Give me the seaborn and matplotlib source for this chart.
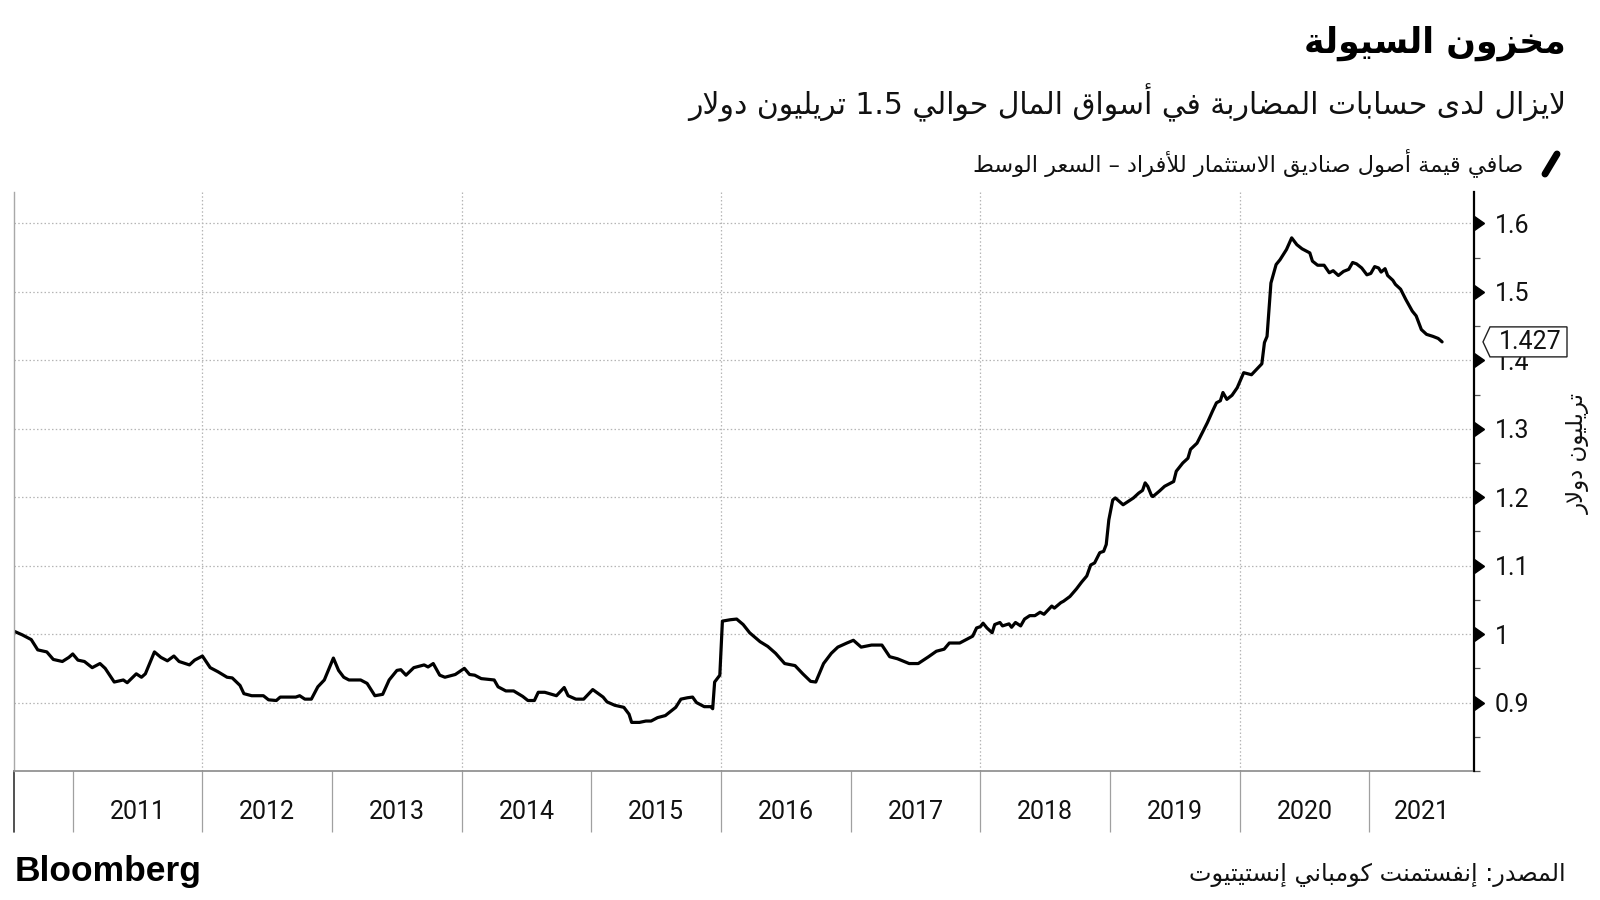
import re
import numpy as np
import pandas as pd
import seaborn as sns
import matplotlib
matplotlib.use("Agg")
import matplotlib.pyplot as plt
from matplotlib.lines import Line2D
from matplotlib.patches import Polygon
from matplotlib.ticker import FixedLocator, MultipleLocator

# ---------------- data (decimal years, trillion USD) ----------------
dates = [
    2010.55, 2010.61, 2010.68, 2010.73, 2010.80, 2010.85, 2010.92, 2010.97, 2011.00, 2011.04,
    2011.09, 2011.15, 2011.21, 2011.25, 2011.32, 2011.39, 2011.42, 2011.49, 2011.53, 2011.56,
    2011.63, 2011.68, 2011.73, 2011.78, 2011.82, 2011.90, 2011.94, 2012.00, 2012.06, 2012.12,
    2012.19, 2012.23, 2012.29, 2012.32, 2012.38, 2012.47, 2012.51, 2012.57, 2012.60, 2012.72,
    2012.75, 2012.79, 2012.84, 2012.89, 2012.94, 2013.01, 2013.05, 2013.09, 2013.13, 2013.22,
    2013.27, 2013.33, 2013.39, 2013.44, 2013.50, 2013.53, 2013.57, 2013.63, 2013.71, 2013.74,
    2013.78, 2013.83, 2013.87, 2013.95, 2014.02, 2014.06, 2014.10, 2014.15, 2014.25, 2014.28,
    2014.34, 2014.40, 2014.47, 2014.51, 2014.56, 2014.59, 2014.64, 2014.73, 2014.79, 2014.82,
    2014.88, 2014.94, 2015.01, 2015.09, 2015.12, 2015.18, 2015.25, 2015.29, 2015.31, 2015.37,
    2015.42, 2015.46, 2015.51, 2015.57, 2015.65, 2015.69, 2015.74, 2015.78, 2015.81, 2015.87,
    2015.92, 2015.935, 2015.95, 2015.99, 2016.01, 2016.07, 2016.12, 2016.17, 2016.22, 2016.30,
    2016.36, 2016.42, 2016.49, 2016.57, 2016.63, 2016.69, 2016.73, 2016.79, 2016.85, 2016.90,
    2016.97, 2017.02, 2017.08, 2017.16, 2017.24, 2017.30, 2017.36, 2017.45, 2017.52, 2017.60,
    2017.66, 2017.72, 2017.76, 2017.84, 2017.90, 2017.94, 2017.97, 2018.00, 2018.02, 2018.05,
    2018.09, 2018.11, 2018.15, 2018.17, 2018.22, 2018.24, 2018.27, 2018.31, 2018.34, 2018.38,
    2018.42, 2018.46, 2018.49, 2018.55, 2018.57, 2018.62, 2018.64, 2018.69, 2018.74, 2018.78,
    2018.82, 2018.85, 2018.88, 2018.92, 2018.95, 2018.97, 2018.99, 2019.02, 2019.04, 2019.10,
    2019.14, 2019.18, 2019.22, 2019.25, 2019.27, 2019.29, 2019.32, 2019.33, 2019.38, 2019.42,
    2019.44, 2019.49, 2019.51, 2019.56, 2019.60, 2019.62, 2019.67, 2019.71, 2019.75, 2019.79,
    2019.82, 2019.85, 2019.87, 2019.90, 2019.94, 2019.98, 2020.03, 2020.09, 2020.14, 2020.17,
    2020.19, 2020.21, 2020.24, 2020.28, 2020.31, 2020.36, 2020.40, 2020.44, 2020.48, 2020.54,
    2020.56, 2020.60, 2020.65, 2020.69, 2020.72, 2020.76, 2020.80, 2020.84, 2020.87, 2020.90,
    2020.94, 2020.98, 2021.01, 2021.04, 2021.07, 2021.09, 2021.12, 2021.14, 2021.18, 2021.20,
    2021.24, 2021.28, 2021.33, 2021.36, 2021.40, 2021.44, 2021.49, 2021.53, 2021.56,
]
values = [
    1.004, 0.999, 0.992, 0.977, 0.974, 0.963, 0.960, 0.966, 0.971, 0.962,
    0.960, 0.951, 0.957, 0.950, 0.930, 0.933, 0.929, 0.942, 0.937, 0.942,
    0.974, 0.966, 0.961, 0.968, 0.960, 0.955, 0.962, 0.968, 0.951, 0.945,
    0.937, 0.936, 0.925, 0.913, 0.910, 0.910, 0.904, 0.903, 0.908, 0.908,
    0.910, 0.905, 0.905, 0.923, 0.933, 0.965, 0.947, 0.937, 0.933, 0.933,
    0.928, 0.910, 0.912, 0.933, 0.947, 0.948, 0.940, 0.951, 0.955, 0.952,
    0.957, 0.940, 0.937, 0.941, 0.950, 0.941, 0.940, 0.935, 0.933, 0.923,
    0.917, 0.917, 0.909, 0.903, 0.903, 0.915, 0.915, 0.910, 0.922, 0.910,
    0.905, 0.905, 0.919, 0.908, 0.901, 0.896, 0.893, 0.883, 0.871, 0.871,
    0.873, 0.873, 0.878, 0.881, 0.893, 0.905, 0.907, 0.908, 0.900, 0.894,
    0.894, 0.891, 0.930, 0.940, 1.019, 1.021, 1.022, 1.014, 1.002, 0.989,
    0.982, 0.972, 0.957, 0.954, 0.942, 0.931, 0.930, 0.957, 0.972, 0.981,
    0.987, 0.991, 0.981, 0.984, 0.984, 0.967, 0.964, 0.957, 0.957, 0.967,
    0.975, 0.978, 0.987, 0.987, 0.993, 0.997, 1.009, 1.011, 1.016, 1.009,
    1.002, 1.014, 1.017, 1.012, 1.015, 1.010, 1.017, 1.012, 1.022, 1.027,
    1.027, 1.032, 1.029, 1.041, 1.038, 1.046, 1.048, 1.055, 1.066, 1.076,
    1.085, 1.101, 1.104, 1.119, 1.121, 1.131, 1.167, 1.196, 1.199, 1.189,
    1.194, 1.199, 1.206, 1.210, 1.221, 1.216, 1.202, 1.201, 1.209, 1.216,
    1.218, 1.223, 1.238, 1.250, 1.257, 1.270, 1.279, 1.294, 1.309, 1.326,
    1.338, 1.341, 1.353, 1.343, 1.349, 1.360, 1.382, 1.379, 1.389, 1.395,
    1.426, 1.435, 1.513, 1.540, 1.547, 1.562, 1.579, 1.569, 1.563, 1.557,
    1.545, 1.539, 1.539, 1.528, 1.531, 1.524, 1.530, 1.533, 1.543, 1.541,
    1.535, 1.525, 1.527, 1.537, 1.535, 1.529, 1.534, 1.524, 1.517, 1.511,
    1.504, 1.489, 1.472, 1.465, 1.445, 1.438, 1.435, 1.432, 1.427,
]
year_labels = ["2011", "2012", "2013", "2014", "2015", "2016", "2017", "2018", "2019", "2020", "2021"]
y_ticks = [0.9, 1.0, 1.1, 1.2, 1.3, 1.4, 1.5, 1.6]
y_tick_labels = ["0.9", "1", "1.1", "1.2", "1.3", "1.4", "1.5", "1.6"]
last_label = "1.427"

title = "مخزون السيولة"
subtitle = "لايزال لدى حسابات المضاربة في أسواق المال حوالي 1.5 تريليون دولار"
legend_text = "صافي قيمة أصول صناديق الاستثمار للأفراد – السعر الوسط"
y_label = "تريليون دولار"
source_text = "المصدر: إنفستمنت كومباني إنستيتيوت"
brand = "Bloomberg"

# ---------------- minimal Arabic shaping + bidi ----------------
_F = {  # isolated, final, initial, medial
    'ء': (0xFE80, None, None, None),
    'آ': (0xFE81, 0xFE82, None, None), 'أ': (0xFE83, 0xFE84, None, None),
    'ؤ': (0xFE85, 0xFE86, None, None), 'إ': (0xFE87, 0xFE88, None, None),
    'ئ': (0xFE89, 0xFE8A, 0xFE8B, 0xFE8C), 'ا': (0xFE8D, 0xFE8E, None, None),
    'ب': (0xFE8F, 0xFE90, 0xFE91, 0xFE92), 'ة': (0xFE93, 0xFE94, None, None),
    'ت': (0xFE95, 0xFE96, 0xFE97, 0xFE98), 'ث': (0xFE99, 0xFE9A, 0xFE9B, 0xFE9C),
    'ج': (0xFE9D, 0xFE9E, 0xFE9F, 0xFEA0), 'ح': (0xFEA1, 0xFEA2, 0xFEA3, 0xFEA4),
    'خ': (0xFEA5, 0xFEA6, 0xFEA7, 0xFEA8), 'د': (0xFEA9, 0xFEAA, None, None),
    'ذ': (0xFEAB, 0xFEAC, None, None), 'ر': (0xFEAD, 0xFEAE, None, None),
    'ز': (0xFEAF, 0xFEB0, None, None), 'س': (0xFEB1, 0xFEB2, 0xFEB3, 0xFEB4),
    'ش': (0xFEB5, 0xFEB6, 0xFEB7, 0xFEB8), 'ص': (0xFEB9, 0xFEBA, 0xFEBB, 0xFEBC),
    'ض': (0xFEBD, 0xFEBE, 0xFEBF, 0xFEC0), 'ط': (0xFEC1, 0xFEC2, 0xFEC3, 0xFEC4),
    'ظ': (0xFEC5, 0xFEC6, 0xFEC7, 0xFEC8), 'ع': (0xFEC9, 0xFECA, 0xFECB, 0xFECC),
    'غ': (0xFECD, 0xFECE, 0xFECF, 0xFED0), 'ف': (0xFED1, 0xFED2, 0xFED3, 0xFED4),
    'ق': (0xFED5, 0xFED6, 0xFED7, 0xFED8), 'ك': (0xFED9, 0xFEDA, 0xFEDB, 0xFEDC),
    'ل': (0xFEDD, 0xFEDE, 0xFEDF, 0xFEE0), 'م': (0xFEE1, 0xFEE2, 0xFEE3, 0xFEE4),
    'ن': (0xFEE5, 0xFEE6, 0xFEE7, 0xFEE8), 'ه': (0xFEE9, 0xFEEA, 0xFEEB, 0xFEEC),
    'و': (0xFEED, 0xFEEE, None, None), 'ى': (0xFEEF, 0xFEF0, None, None),
    'ي': (0xFEF1, 0xFEF2, 0xFEF3, 0xFEF4),
}
_LA = {'آ': (0xFEF5, 0xFEF6), 'أ': (0xFEF7, 0xFEF8), 'إ': (0xFEF9, 0xFEFA), 'ا': (0xFEFB, 0xFEFC)}


def _shape(text):
    toks = []
    i = 0
    while i < len(text):
        c = text[i]
        if c == 'ل' and i + 1 < len(text) and text[i + 1] in _LA:
            toks.append(('LA', text[i + 1]))
            i += 2
        else:
            toks.append(('C', c))
            i += 1

    def jt(t):
        if t is None:
            return 'U'
        if t[0] == 'LA':
            return 'R'
        f = _F.get(t[1])
        if f is None:
            return 'U'
        if f[2] is not None:
            return 'D'
        if f[1] is not None:
            return 'R'
        return 'U'

    out = []
    for k, t in enumerate(toks):
        prev = toks[k - 1] if k > 0 else None
        nxt = toks[k + 1] if k + 1 < len(toks) else None
        cp = jt(prev) == 'D' and jt(t) in ('D', 'R')
        cn = jt(t) == 'D' and jt(nxt) in ('D', 'R')
        if t[0] == 'LA':
            out.append(chr(_LA[t[1]][1 if cp else 0]))
            continue
        f = _F.get(t[1])
        if f is None:
            out.append(t[1])
            continue
        if cp and cn:
            out.append(chr(f[3]))
        elif cp:
            out.append(chr(f[1]))
        elif cn:
            out.append(chr(f[2]))
        else:
            out.append(chr(f[0]))
    return ''.join(out)


def ar(text):
    vis = _shape(text)[::-1]
    return re.sub(r'[0-9.]+', lambda m: m.group(0)[::-1], vis)


# ---------------- figure ----------------
sns.set_theme(style="white")
plt.rcParams['font.family'] = ['DejaVu Sans']
NUM_FONT = ['Roboto', 'DejaVu Sans']

W, H = 1600, 900
fig = plt.figure(figsize=(16, 9), dpi=100)
fig.patch.set_facecolor('white')

x0, x1 = 14, 1474
ytop, ybot = 192, 771
ax = fig.add_axes([x0 / W, 1 - ybot / H, (x1 - x0) / W, (ybot - ytop) / H])
ax.set_facecolor('white')

xmin, xmax = 2010.547, 2021.806
ymin, ymax = 0.8, 1.646
ax.set_xlim(xmin, xmax)
ax.set_ylim(ymin, ymax)

df = pd.DataFrame({"date": dates, "value": values})
sns.lineplot(data=df, x="date", y="value", ax=ax, color="black", linewidth=2.3, sort=False)
ax.set_xlabel("")
ax.set_ylabel("")

# grid
grid_kw = dict(color="#b5b5b5", linewidth=0.9, linestyle=(0, (1.2, 1.8)), zorder=0)
for yv in y_ticks:
    ax.axhline(yv, **grid_kw)
for yr in [2012, 2014, 2016, 2018, 2020]:
    ax.axvline(yr, **grid_kw)

# spines
ax.spines['top'].set_visible(False)
ax.spines['left'].set_color('#a8a8a8')
ax.spines['left'].set_linewidth(1.0)
ax.spines['right'].set_color('black')
ax.spines['right'].set_linewidth(1.6)
ax.spines['bottom'].set_color('#8a8a8a')
ax.spines['bottom'].set_linewidth(1.2)
ax.spines['bottom'].set_linestyle((0, (1, 1)))

# x axis: year boundaries as long minor ticks, labels centered in each year
boundaries = [int(y) for y in year_labels]
centers = [b + 0.5 for b in boundaries[:-1]] + [(boundaries[-1] + xmax) / 2]
ax.xaxis.set_major_locator(FixedLocator(centers))
ax.set_xticklabels(year_labels, fontsize=18, family=NUM_FONT, color='#111111')
ax.xaxis.set_minor_locator(FixedLocator(boundaries))
ax.tick_params(axis='x', which='major', length=0, pad=21, bottom=True)
ax.tick_params(axis='x', which='minor', length=44, width=0.9, color='#a0a0a0',
               direction='out', bottom=True)
ax.plot([0, 0], [0, -0.106], transform=ax.transAxes, color='#333333', lw=1.2, clip_on=False)

# y axis on the right
ax.yaxis.tick_right()
ax.yaxis.set_major_locator(FixedLocator(y_ticks))
ax.set_yticklabels(y_tick_labels, fontsize=18, family=NUM_FONT, color='#111111')
ax.yaxis.set_minor_locator(MultipleLocator(0.05))
ax.tick_params(axis='y', which='major', length=0, pad=15, left=False, right=True)
ax.tick_params(axis='y', which='minor', length=4.5, width=0.9, color='#555555', left=False, right=True)
ax.plot([1.0] * len(y_ticks), y_ticks, transform=ax.get_yaxis_transform(), ls='none',
        marker=9, markersize=10, color='black', clip_on=False, zorder=5)

# last value tag
fig.canvas.draw()
_, yv_disp = ax.transData.transform((xmax, values[-1]))
tip_x, box_l, box_r, hh = 1483, 1490, 1567, 15
poly = Polygon([[tip_x, yv_disp], [box_l, yv_disp + hh], [box_r, yv_disp + hh],
                [box_r, yv_disp - hh], [box_l, yv_disp - hh]], closed=True,
               transform=None, facecolor='white', edgecolor='#222222', lw=1.0, zorder=10)
fig.add_artist(poly)
fig.text((box_l + box_r) / 2 / W + 0.001, yv_disp / H, last_label, ha='center', va='center',
         fontsize=18, family=NUM_FONT, color='#111111', zorder=11)

# y label
fig.text(1578 / W, 1 - 454 / H, ar(y_label), rotation=90, ha='center', va='center', fontsize=16.5,
         color='#111111')

# headings
fig.text(1566 / W, 1 - 43 / H, ar(title), ha='right', va='center', fontsize=25,
         fontweight='bold', color='black')
fig.text(1566 / W, 1 - 103 / H, ar(subtitle), ha='right', va='center', fontsize=21.4,
         color='#111111')
fig.text(1523 / W, 1 - 163 / H, ar(legend_text), ha='right', va='center', fontsize=16.2,
         color='#111111')
fig.add_artist(Line2D([1545 / W, 1557 / W], [1 - 174 / H, 1 - 154 / H], color='black', lw=5,
                      solid_capstyle='round'))

# footer
fig.text(1566 / W, 1 - 875 / H, ar(source_text), ha='right', va='center', fontsize=17.2,
         color='#111111')
fig.text(15 / W, 1 - 872 / H, brand, ha='left', va='center', fontsize=25.5, fontweight='bold',
         family=['Liberation Sans', 'DejaVu Sans'], color='black')

fig.savefig("out.png", dpi=100, facecolor='white')
